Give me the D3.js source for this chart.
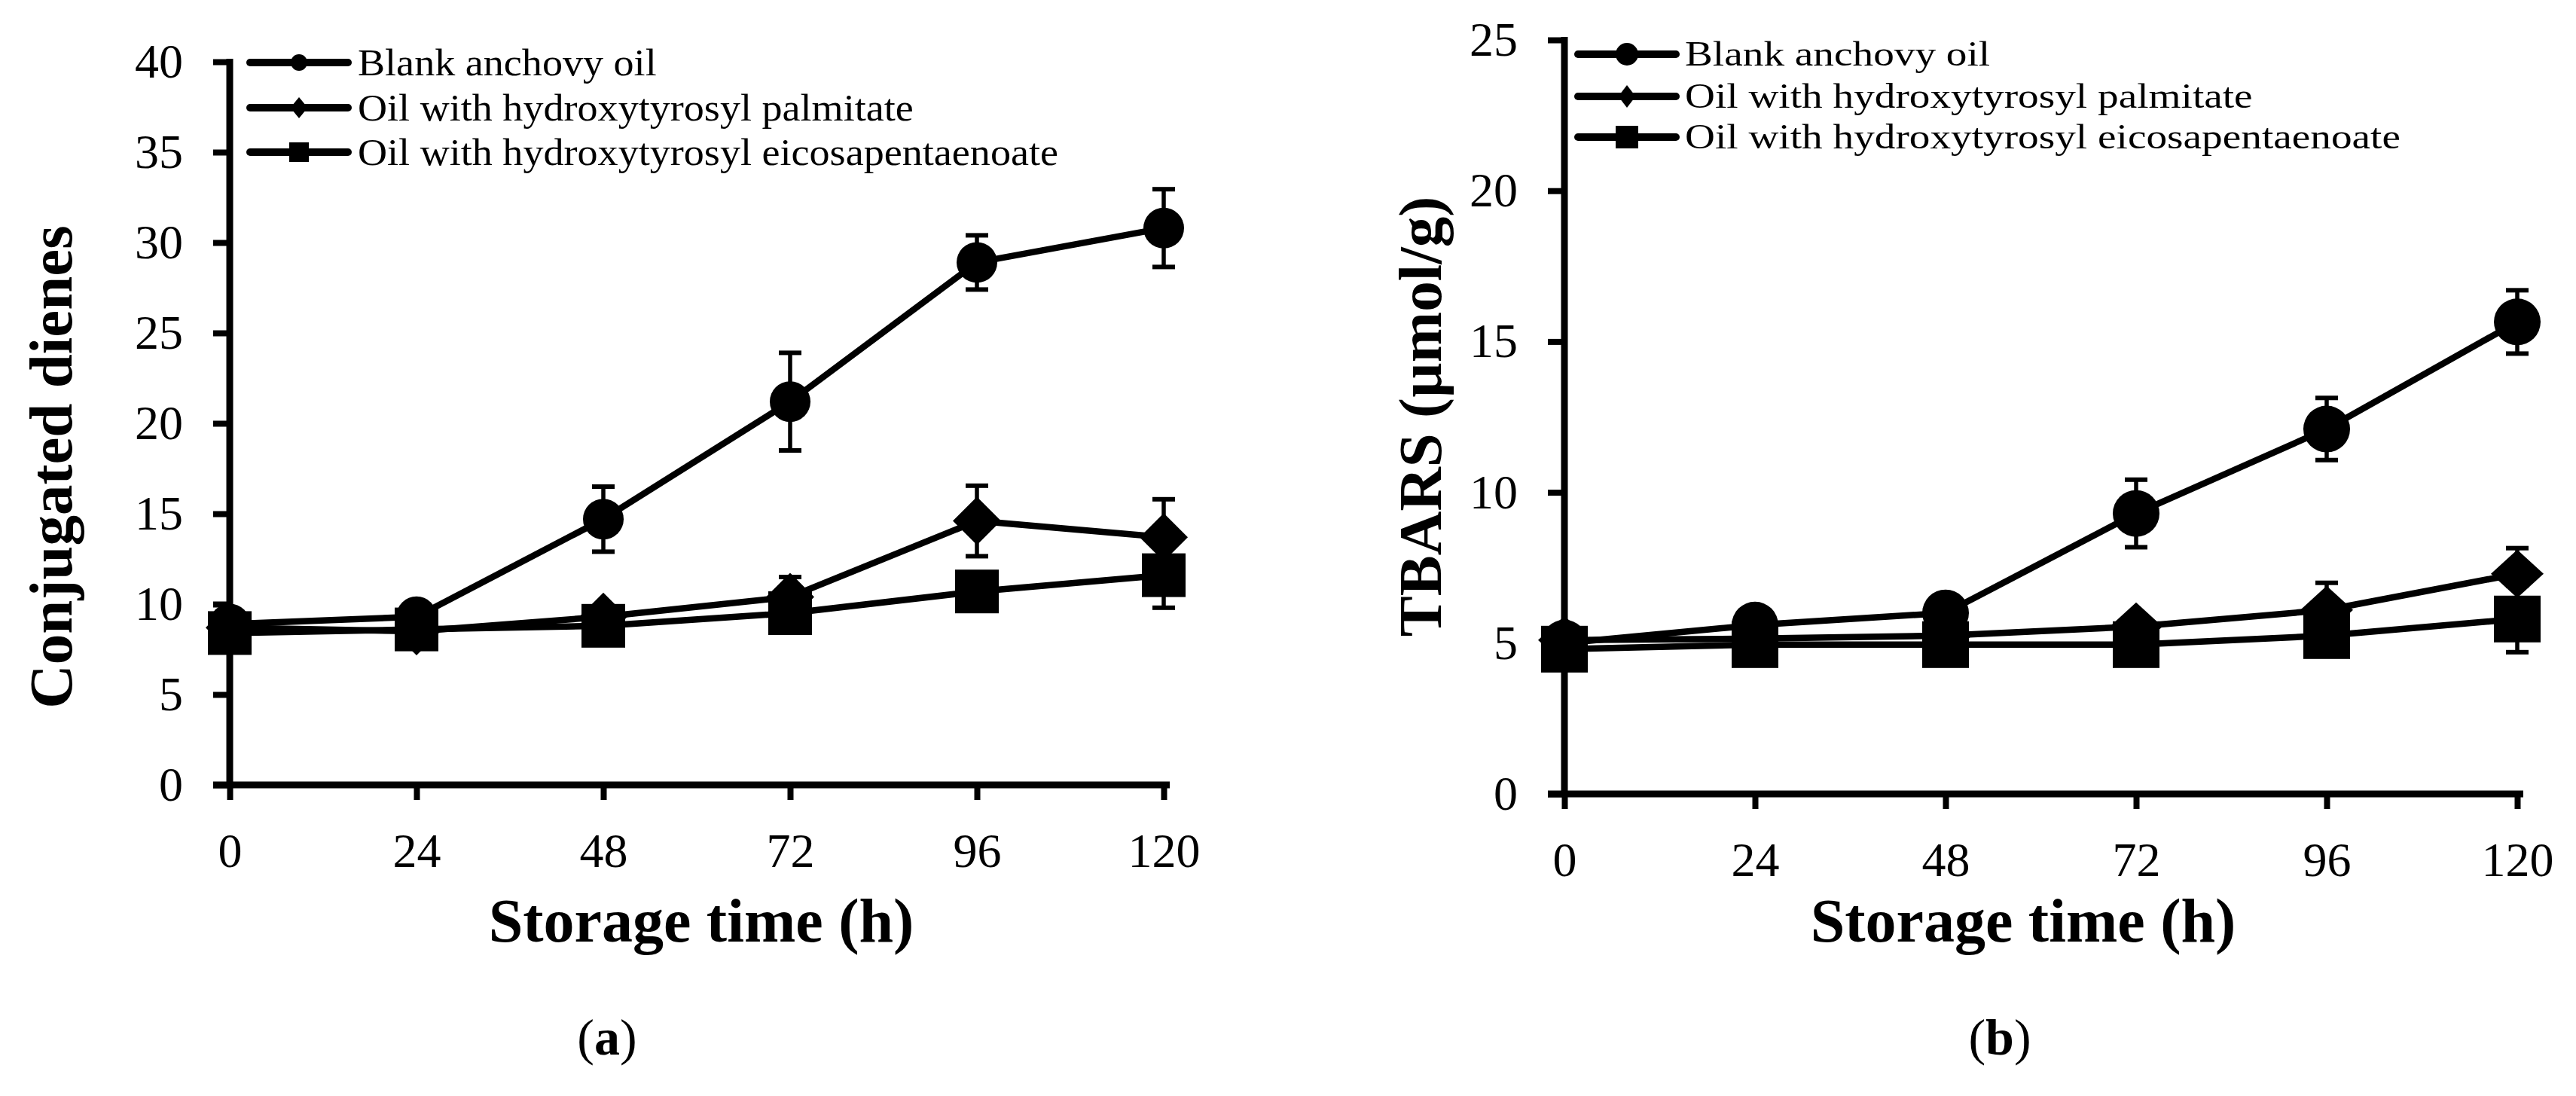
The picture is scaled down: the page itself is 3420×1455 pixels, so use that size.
<!DOCTYPE html>
<html>
<head>
<meta charset="utf-8">
<script src="https://cdn.jsdelivr.net/npm/d3@7/dist/d3.min.js"></script>
<style>
  html, body { margin: 0; padding: 0; background: #fff; }
  svg { display: block; }
</style>
</head>
<body>
<svg id="chart" width="3420" height="1455"></svg>
<script>
// ---------------- DATA ----------------
const hours = [0, 24, 48, 72, 96, 120];
const seriesNames = [
  "Blank anchovy oil",
  "Oil with hydroxytyrosyl palmitate",
  "Oil with hydroxytyrosyl eicosapentaenoate"
];
const seriesShapes = ["circle", "diamond", "square"];

// Panel (a): conjugated dienes
const dienesBlank    = [8.9, 9.3, 14.7, 21.2, 28.9, 30.8];
const dienesBlankSD  = [0.4, 0.4, 1.8, 2.7, 1.5, 2.15];
const dienesPalm     = [8.7, 8.5, 9.3, 10.4, 14.6, 13.7];
const dienesPalmSD   = [0.3, 0.4, 0.5, 1.1, 1.95, 2.1];
const dienesEpa      = [8.4, 8.6, 8.8, 9.5, 10.7, 11.6];
const dienesEpaSD    = [0.3, 0.3, 0.4, 0.6, 0.6, 1.8];

// Panel (b): TBARS
const tbarsBlank     = [5.0, 5.6, 6.0, 9.3, 12.1, 15.65];
const tbarsBlankSD   = [0.2, 0.2, 0.3, 1.12, 1.03, 1.05];
const tbarsPalm      = [5.1, 5.15, 5.25, 5.55, 6.1, 7.3];
const tbarsPalmSD    = [0.2, 0.2, 0.3, 0.3, 0.9, 0.85];
const tbarsEpa       = [4.8, 4.95, 4.95, 4.95, 5.25, 5.8];
const tbarsEpaSD     = [0.2, 0.2, 0.2, 0.3, 0.3, 1.1];

const yTicksA = [0, 5, 10, 15, 20, 25, 30, 35, 40];
const yTicksB = [0, 5, 10, 15, 20, 25];
const xTicks = hours;

const yTitleA = "Conjugated dienes";
const yTitleB = "TBARS (\u00b5mol/g)";
const xTitle = "Storage time (h)";

// ---------------- LAYOUT ----------------
const FONT = "'Liberation Serif', 'Times New Roman', serif";
const svg = d3.select("#chart");
svg.append("rect").attr("width", 3420).attr("height", 1455).attr("fill", "#fff");

const panels = [
  {
    x0: 305, x1: 1545, y0: 1042, y1: 82, ymax: 40, yTicks: yTicksA,
    series: [[dienesBlank, dienesBlankSD], [dienesPalm, dienesPalmSD], [dienesEpa, dienesEpaSD]],
    yTitle: yTitleA, yTitleX: 95, yTitleY: 620,
    xTitleX: 931, xTitleY: 1250,
    label: "a", labelX: 806, labelY: 1400,
    mk: { circle: 27, square: 58, diamondW: 64, diamondH: 64 },
    leg: { lx0: 332, lx1: 462, mx: 397, ys: [83, 143, 202], tx: 475, fs: 50, maxW: 930,
           circle: 11, square: 26, diamondW: 23, diamondH: 28 }
  },
  {
    x0: 2077, x1: 3342, y0: 1054, y1: 53, ymax: 25, yTicks: yTicksB,
    series: [[tbarsBlank, tbarsBlankSD], [tbarsPalm, tbarsPalmSD], [tbarsEpa, tbarsEpaSD]],
    yTitle: yTitleB, yTitleX: 1913, yTitleY: 553,
    xTitleX: 2686, xTitleY: 1250,
    label: "b", labelX: 2655, labelY: 1400,
    mk: { circle: 31, square: 62, diamondW: 70, diamondH: 64 },
    leg: { lx0: 2095, lx1: 2225, mx: 2160, ys: [72, 128, 182], tx: 2237, fs: 46, maxW: 950,
           circle: 15, square: 30, diamondW: 23, diamondH: 30 }
  }
];

function drawMarker(g, shape, cx, cy, s) {
  if (shape === "circle") {
    g.append("circle").attr("cx", cx).attr("cy", cy).attr("r", s.circle).attr("fill", "#000");
  } else if (shape === "square") {
    g.append("rect").attr("x", cx - s.square / 2).attr("y", cy - s.square / 2)
      .attr("width", s.square).attr("height", s.square).attr("fill", "#000");
  } else {
    const w = s.diamondW / 2, h = s.diamondH / 2;
    g.append("path")
      .attr("d", `M${cx},${cy - h}L${cx + w},${cy}L${cx},${cy + h}L${cx - w},${cy}Z`)
      .attr("fill", "#000");
  }
}

panels.forEach(p => {
  const g = svg.append("g");
  const x = d3.scaleLinear().domain([0, 120]).range([p.x0, p.x1]);
  const y = d3.scaleLinear().domain([0, p.ymax]).range([p.y0, p.y1]);

  // Y axis ticks + labels
  const yAxis = d3.axisLeft(y).tickValues(p.yTicks).tickSize(22).tickSizeOuter(0).tickPadding(40);
  const ya = g.append("g").attr("transform", `translate(${p.x0},0)`).call(yAxis);
  ya.select(".domain").remove();
  ya.selectAll(".tick line").attr("stroke", "#000").attr("stroke-width", 8);
  ya.selectAll(".tick text").attr("font-family", FONT).attr("font-size", 64).attr("fill", "#000");

  // X axis ticks + labels
  const xAxis = d3.axisBottom(x).tickValues(xTicks).tickSize(20).tickSizeOuter(0).tickPadding(44);
  const xa = g.append("g").attr("transform", `translate(0,${p.y0})`).call(xAxis);
  xa.select(".domain").remove();
  xa.selectAll(".tick line").attr("stroke", "#000").attr("stroke-width", 8);
  xa.selectAll(".tick text").attr("font-family", FONT).attr("font-size", 64).attr("fill", "#000");

  // Axis lines
  g.append("line").attr("x1", p.x0).attr("x2", p.x0).attr("y1", p.y1 - 4).attr("y2", p.y0 + 4)
    .attr("stroke", "#000").attr("stroke-width", 9);
  g.append("line").attr("x1", p.x0 - 22).attr("x2", p.x1 + 8).attr("y1", p.y0).attr("y2", p.y0)
    .attr("stroke", "#000").attr("stroke-width", 9);

  // Series
  const line = d3.line().x(d => x(d.h)).y(d => y(d.v));
  p.series.forEach((s, si) => {
    const pts = hours.map((h, i) => ({ h, v: s[0][i], sd: s[1][i] }));
    const sg = g.append("g");
    sg.append("path").datum(pts).attr("d", line).attr("fill", "none")
      .attr("stroke", "#000").attr("stroke-width", 8.5).attr("stroke-linejoin", "round");
    pts.forEach(d => {
      const cx = x(d.h);
      sg.append("line").attr("x1", cx).attr("x2", cx)
        .attr("y1", y(d.v - d.sd)).attr("y2", y(d.v + d.sd))
        .attr("stroke", "#000").attr("stroke-width", 5.5);
      [d.v - d.sd, d.v + d.sd].forEach(val => {
        sg.append("line").attr("x1", cx - 15).attr("x2", cx + 15)
          .attr("y1", y(val)).attr("y2", y(val))
          .attr("stroke", "#000").attr("stroke-width", 6);
      });
    });
    pts.forEach(d => drawMarker(sg, seriesShapes[si], x(d.h), y(d.v), p.mk));
  });

  // Legend
  const L = p.leg;
  const texts = [];
  seriesNames.forEach((name, i) => {
    const ly = L.ys[i];
    g.append("line").attr("x1", L.lx0).attr("x2", L.lx1).attr("y1", ly).attr("y2", ly)
      .attr("stroke", "#000").attr("stroke-width", 10).attr("stroke-linecap", "round");
    drawMarker(g, seriesShapes[i], L.mx, ly, L);
    texts.push(g.append("text").attr("x", L.tx).attr("y", ly).attr("dy", "0.33em")
      .attr("font-family", FONT).attr("font-size", L.fs).attr("fill", "#000").text(name));
  });
  // widen legend glyphs to match the reference's wider serif face
  const widths = texts.map(t => t.node().getComputedTextLength());
  const k = L.maxW / d3.max(widths);
  texts.forEach((t, i) => t.attr("textLength", widths[i] * k).attr("lengthAdjust", "spacingAndGlyphs"));

  // Axis titles
  g.append("text").attr("transform", `translate(${p.yTitleX},${p.yTitleY}) rotate(-90)`)
    .attr("text-anchor", "middle").attr("font-family", FONT).attr("font-weight", "bold")
    .attr("font-size", 81).attr("fill", "#000").text(p.yTitle);
  g.append("text").attr("x", p.xTitleX).attr("y", p.xTitleY)
    .attr("text-anchor", "middle").attr("font-family", FONT).attr("font-weight", "bold")
    .attr("font-size", 82).attr("fill", "#000").text(xTitle);

  // Panel label
  const lt = g.append("text").attr("x", p.labelX).attr("y", p.labelY)
    .attr("text-anchor", "middle").attr("font-family", FONT).attr("font-size", 68).attr("fill", "#000");
  lt.append("tspan").text("(");
  lt.append("tspan").attr("font-weight", "bold").text(p.label);
  lt.append("tspan").text(")");
});
</script>
</body>
</html>
